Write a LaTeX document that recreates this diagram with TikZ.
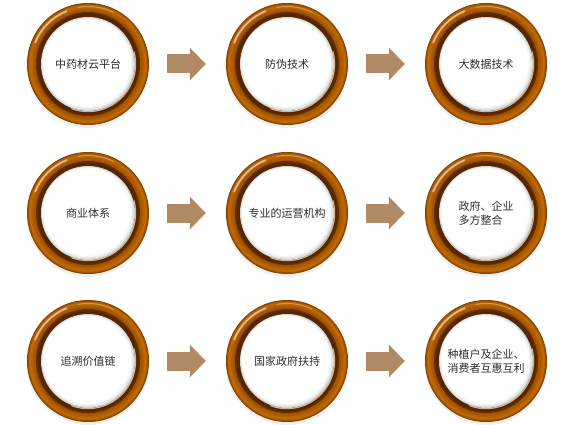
\documentclass[tikz,border=0pt]{standalone}
\usepackage{fontspec}
\newfontfamily\cjk{Noto Sans CJK SC}
\usetikzlibrary{arrows.meta,calc}
\definecolor{ringdark}{HTML}{552600}
\definecolor{ringin}{HTML}{9C5002}
\definecolor{ringmid}{HTML}{C06A06}
\definecolor{ringout}{HTML}{824000}
\definecolor{bandrim}{HTML}{D4B494}
\definecolor{diskedge}{HTML}{D2D6D6}
\definecolor{arrowtan}{HTML}{B08A64}
\definecolor{txt}{HTML}{2E2E2E}
\tikzset{
  lab/.style={circle, minimum size=122pt, inner sep=0pt, align=left, text=txt,
    font=\cjk\fontsize{11}{14}\selectfont},
  arrowline/.style={arrowtan, line width=19pt,
    -{Triangle[width=32pt,length=16pt]}, shorten <=18pt, shorten >=20pt}
}
\newcommand{\myring}[1]{%
  \fill[black!6] ($(#1)+(0,-2.5pt)$) circle (61.5pt);
  % outer ring
  \foreach \i in {0,...,5}{
    \pgfmathtruncatemacro\p{100-\i*20}
    \fill[ringout!\p!ringmid] (#1) circle ({61-\i*0.5});
  }
  \foreach \i in {0,...,11}{
    \pgfmathtruncatemacro\p{100-\i*9}
    \fill[ringmid!\p!ringin] (#1) circle ({58-\i*0.5});
  }
  % dark band
  \fill[ringdark!80!ringin] (#1) circle (52pt);
  \fill[ringdark] (#1) circle (50.5pt);
  % glossy highlights
  \draw[white, opacity=0.55, line width=1.8pt, line cap=round] ($(#1)+(112:57pt)$) arc (112:158:57pt);
  \draw[white, opacity=0.3, line width=1pt, line cap=round] ($(#1)+(64:57.5pt)$) arc (64:100:57.5pt);
  % light rim on the lower right of the band
  \draw[bandrim, line width=1.2pt, line cap=round] ($(#1)+(-110:47.6pt)$) arc (-110:15:47.6pt);
  % disk with off-centre gradient
  \foreach \k in {0,...,4}{
    \pgfmathtruncatemacro\p{100*(1-\k/4)^2}
    \fill[diskedge!\p!white] ($(#1)+({-0.3*\k},{0.3*\k})$) circle ({47-\k*1.0});
  }
}
\begin{document}
\begin{tikzpicture}[x=1pt,y=1pt]
\useasboundingbox (0,0) rectangle (567,-425);
\fill[white] (0,0) rectangle (567,-425);
\foreach \r/\y in {1/-64,2/-213,3/-361}{
  \foreach \c/\x in {1/88,2/287,3/486}{
    \coordinate (c\r\c) at (\x,\y);
  }
}
\foreach \r in {1,2,3}{\foreach \c in {1,2,3}{\myring{c\r\c}}}
\node[lab] (n11) at (c11) {中药材云平台};
\node[lab] (n12) at (c12) {防伪技术};
\node[lab] (n13) at (c13) {大数据技术};
\node[lab] (n21) at (c21) {商业体系};
\node[lab] (n22) at (c22) {专业的运营机构};
\node[lab] (n23) at (c23) {政府、企业\\多方整合};
\node[lab] (n31) at (c31) {追溯价值链};
\node[lab] (n32) at (c32) {国家政府扶持};
\node[lab] (n33) at (c33) {种植户及企业、\\消费者互惠互利};
\draw[arrowline] (n11) -- (n12);
\draw[arrowline] (n12) -- (n13);
\draw[arrowline] (n21) -- (n22);
\draw[arrowline] (n22) -- (n23);
\draw[arrowline] (n31) -- (n32);
\draw[arrowline] (n32) -- (n33);
\end{tikzpicture}
\end{document}
